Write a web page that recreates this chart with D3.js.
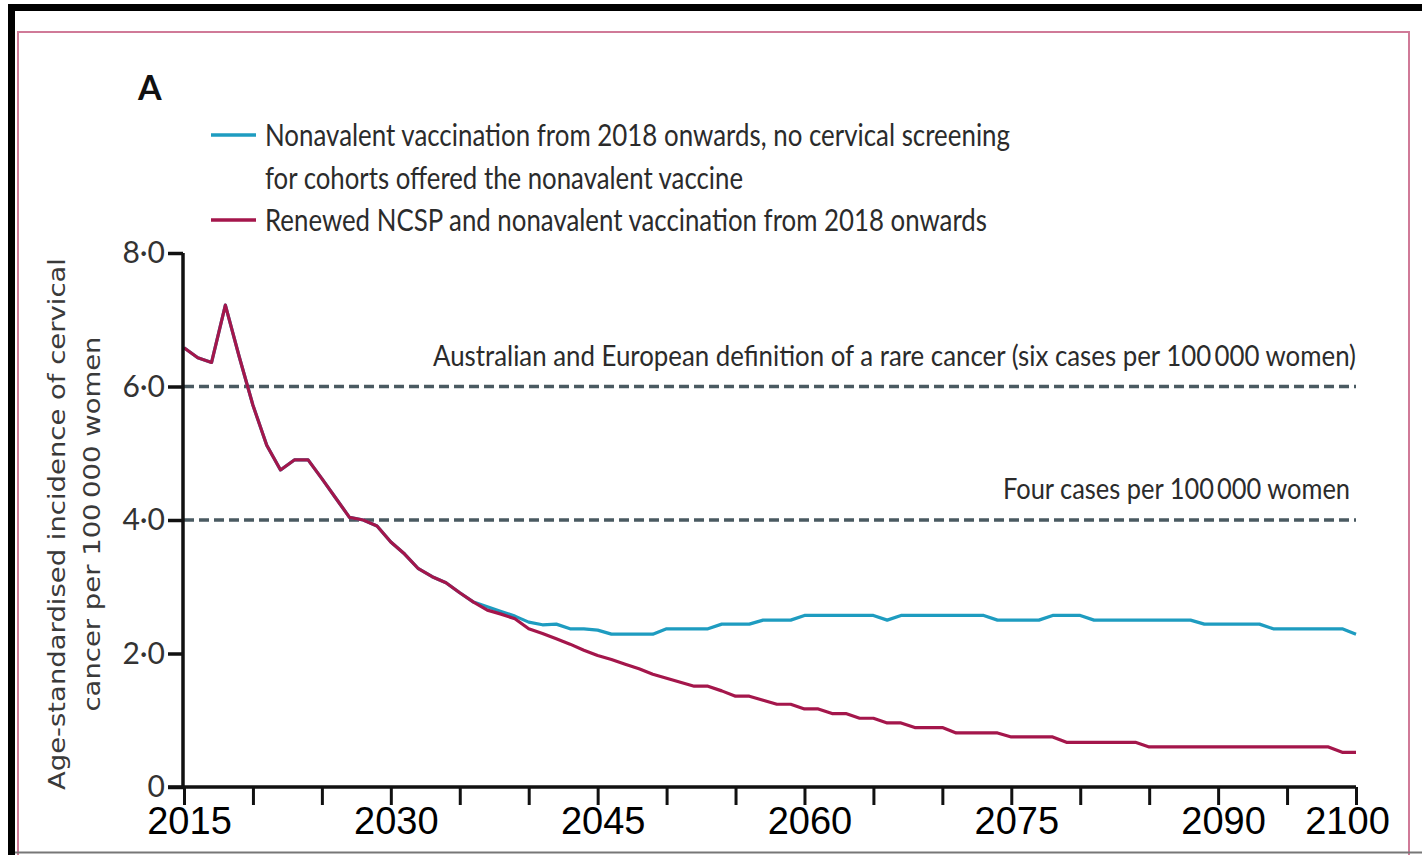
<!DOCTYPE html>
<html>
<head>
<meta charset="utf-8">
<script src="https://cdn.jsdelivr.net/npm/d3@7"></script>
<style>
  body { margin: 0; background: #fff; }
  svg { display: block; }
</style>
</head>
<body>
<div id="canvas"></div>
<script>
// years 2015..2100, one value per year
const years = d3.range(2015, 2101);

// Nonavalent vaccination from 2018, no screening for vaccinated cohorts
const noScreening = [
  6.58, 6.43, 6.36, 7.22, 6.45, 5.72, 5.12, 4.75, 4.90, 4.90,
  4.62, 4.33, 4.04, 4.00, 3.91, 3.67, 3.49, 3.27, 3.15, 3.06, 2.91,
  2.77, 2.70, 2.63, 2.56, 2.47, 2.43, 2.44, 2.37, 2.37, 2.35,
  2.29, 2.29, 2.29, 2.29, 2.37, 2.37, 2.37, 2.37, 2.44, 2.44,
  2.44, 2.50, 2.50, 2.50, 2.57, 2.57, 2.57, 2.57, 2.57, 2.57,
  2.50, 2.57, 2.57, 2.57, 2.57, 2.57, 2.57, 2.57, 2.50, 2.50,
  2.50, 2.50, 2.57, 2.57, 2.57, 2.50, 2.50, 2.50, 2.50, 2.50,
  2.50, 2.50, 2.50, 2.44, 2.44, 2.44, 2.44, 2.44, 2.37, 2.37,
  2.37, 2.37, 2.37, 2.37, 2.29
];

// Renewed NCSP + nonavalent vaccination from 2018
const renewedNcsp = [
  6.58, 6.43, 6.36, 7.22, 6.45, 5.72, 5.12, 4.75, 4.90, 4.90,
  4.62, 4.33, 4.04, 4.00, 3.91, 3.67, 3.49, 3.27, 3.15, 3.06, 2.91,
  2.77, 2.65, 2.59, 2.52, 2.37, 2.30, 2.22, 2.14, 2.05, 1.97,
  1.91, 1.84, 1.77, 1.69, 1.63, 1.57, 1.51, 1.51, 1.44, 1.36,
  1.36, 1.30, 1.24, 1.24, 1.17, 1.17, 1.10, 1.10, 1.03, 1.03,
  0.96, 0.96, 0.89, 0.89, 0.89, 0.81, 0.81, 0.81, 0.81, 0.75,
  0.75, 0.75, 0.75, 0.67, 0.67, 0.67, 0.67, 0.67, 0.67, 0.60,
  0.60, 0.60, 0.60, 0.60, 0.60, 0.60, 0.60, 0.60, 0.60, 0.60,
  0.60, 0.60, 0.60, 0.52, 0.52
];

const xTicks = d3.range(2015, 2101, 5);
const xTickLabels = [2015, 2030, 2045, 2060, 2075, 2090, 2100];
const yTicks = [0, 2, 4, 6, 8];
const refLines = [6, 4];
const refLabels = [
  "Australian and European definition of a rare cancer (six cases per 100\u2009000 women)",
  "Four cases per 100\u2009000 women"
];
const legendLabels = [
  ["Nonavalent vaccination from 2018 onwards, no cervical screening",
   "for cohorts offered the nonavalent vaccine"],
  ["Renewed NCSP and nonavalent vaccination from 2018 onwards"]
];

const blue = "#1e9cc0";
const red = "#a4164b";
const humanist = "Lato, 'Open Sans', sans-serif";

const width = 1422, height = 855;
const svg = d3.select("#canvas").append("svg")
  .attr("width", width).attr("height", height);

// page frame
svg.append("rect").attr("x", 18).attr("y", 32).attr("width", 1391).attr("height", 840)
  .attr("fill", "none").attr("stroke", "#d07a98").attr("stroke-width", 2);
svg.append("line").attr("x1", 8).attr("x2", 1422).attr("y1", 7.5).attr("y2", 7.5)
  .attr("stroke", "#000").attr("stroke-width", 7);
svg.append("line").attr("x1", 11.5).attr("x2", 11.5).attr("y1", 4).attr("y2", 855)
  .attr("stroke", "#000").attr("stroke-width", 7);
svg.append("line").attr("x1", 15).attr("x2", 1422).attr("y1", 852.5).attr("y2", 852.5)
  .attr("stroke", "#777").attr("stroke-width", 2);

const x = d3.scaleLinear().domain([2015, 2100]).range([184, 1356]);
const y = d3.scaleLinear().domain([0, 8]).range([787, 253]);

// panel letter
svg.append("text").attr("x", 138).attr("y", 100).text("A")
  .attr("font-family", humanist).attr("font-weight", "bold")
  .attr("font-size", 34).attr("fill", "#111");

// legend
const legendRows = [
  { color: blue, lines: legendLabels[0], y: 135 },
  { color: red, lines: legendLabels[1], y: 220 }
];
const legendWidths = [[745, 478], [722]];
legendRows.forEach((row, i) => {
  svg.append("line").attr("x1", 211).attr("x2", 256)
    .attr("y1", row.y).attr("y2", row.y)
    .attr("stroke", row.color).attr("stroke-width", 3.5);
  row.lines.forEach((t, j) => {
    svg.append("text").attr("x", 265).attr("y", row.y + 11 + j * 43)
      .text(t)
      .attr("font-family", humanist).attr("font-size", 30)
      .attr("fill", "#2b2b2b")
      .attr("textLength", legendWidths[i][j]).attr("lengthAdjust", "spacingAndGlyphs");
  });
});

// reference lines
const refWidths = [923, 347];
const refRight = [1356, 1350];
refLines.forEach((v, i) => {
  svg.append("line").attr("x1", x(2015)).attr("x2", x(2100))
    .attr("y1", y(v)).attr("y2", y(v))
    .attr("stroke", "#4a5a61").attr("stroke-width", 3.5)
    .attr("stroke-dasharray", "10,5");
  svg.append("text").attr("x", refRight[i]).attr("y", y(v) - 21)
    .attr("text-anchor", "end")
    .text(refLabels[i])
    .attr("font-family", humanist).attr("font-size", 29).attr("fill", "#2b2b2b")
    .attr("textLength", refWidths[i]).attr("lengthAdjust", "spacingAndGlyphs");
});

// series
const line = d3.line().x((d, i) => x(years[i])).y(d => y(d));
svg.append("path").datum(noScreening).attr("d", line)
  .attr("fill", "none").attr("stroke", blue).attr("stroke-width", 3.2)
  .attr("stroke-linejoin", "round");
svg.append("path").datum(renewedNcsp).attr("d", line)
  .attr("fill", "none").attr("stroke", red).attr("stroke-width", 3.2)
  .attr("stroke-linejoin", "round");

// y axis
const yAxis = svg.append("g").attr("transform", `translate(${x(2015) - 1},0)`)
  .call(d3.axisLeft(y).tickValues(yTicks).tickSize(15)
    .tickFormat(d => d === 0 ? "0" : d3.format(".1f")(d).replace(".", "\u00b7")));
yAxis.select(".domain").attr("stroke", "#111").attr("stroke-width", 3.5)
  .attr("d", `M0,${y(8)}V${y(0)}`);
yAxis.selectAll(".tick line").attr("stroke", "#111").attr("stroke-width", 3.5);
yAxis.selectAll(".tick text")
  .attr("font-family", humanist).attr("font-size", 30).attr("fill", "#333")
  .attr("x", -18).attr("dy", "0.33em");

// x axis
const xAxis = svg.append("g").attr("transform", `translate(0,${y(0)})`)
  .call(d3.axisBottom(x).tickValues(xTicks).tickSize(18)
    .tickFormat(d => xTickLabels.includes(d) ? d : ""));
xAxis.select(".domain").attr("stroke", "#111").attr("stroke-width", 3.5)
  .attr("d", `M${x(2015) - 16},0H${x(2100)}`);
xAxis.selectAll(".tick line").attr("stroke", "#111").attr("stroke-width", 3);
xAxis.selectAll(".tick text")
  .attr("font-family", "'Liberation Sans', Arial, sans-serif").attr("font-size", 38)
  .attr("fill", "#000").attr("y", 20).attr("dy", "0.71em")
  .attr("dx", d => d === 2100 ? -9 : 5);

// y axis title
const yTitle = svg.append("text")
  .attr("transform", `translate(57,${524}) rotate(-90)`)
  .attr("font-family", "'DejaVu Sans', sans-serif").attr("font-size", 23)
  .attr("fill", "#3a3a3a").attr("text-anchor", "middle");
yTitle.append("tspan").attr("x", 0).attr("y", 8)
  .text("Age-standardised incidence of cervical")
  .attr("textLength", 532).attr("lengthAdjust", "spacingAndGlyphs");
yTitle.append("tspan").attr("x", 0).attr("y", 43)
  .text("cancer per 100\u2009000 women")
  .attr("textLength", 375).attr("lengthAdjust", "spacingAndGlyphs");
</script>
</body>
</html>
